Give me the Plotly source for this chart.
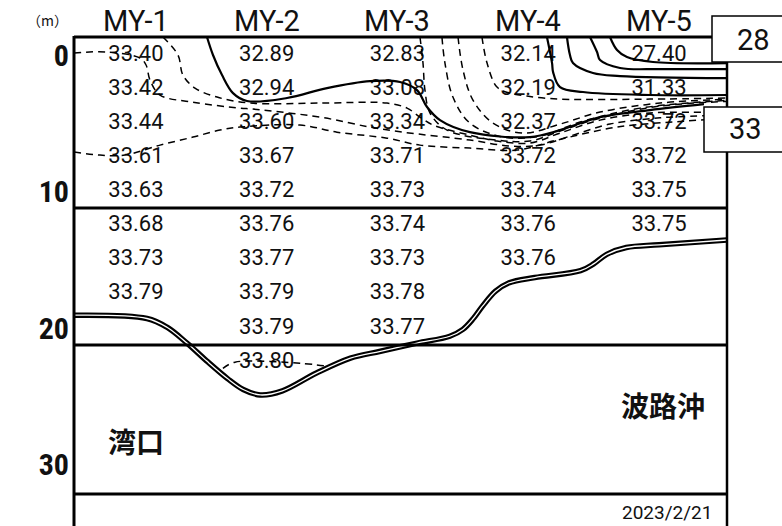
import plotly.graph_objects as go

# ---------------- data ----------------
STATIONS = ["MY-1", "MY-2", "MY-3", "MY-4", "MY-5"]
STATION_POS = [1, 2, 3, 4, 5]
DEPTHS = [0, 2.5, 5, 7.5, 10, 12.5, 15, 17.5, 20, 22.5]
SAL_MY1 = [33.40, 33.42, 33.44, 33.61, 33.63, 33.68, 33.73, 33.79, None, None]
SAL_MY2 = [32.89, 32.94, 33.60, 33.67, 33.72, 33.76, 33.77, 33.79, 33.79, 33.80]
SAL_MY3 = [32.83, 33.08, 33.34, 33.71, 33.73, 33.74, 33.73, 33.78, 33.77, None]
SAL_MY4 = [32.14, 32.19, 32.37, 33.72, 33.74, 33.76, 33.76, None, None, None]
SAL_MY5 = [27.40, 31.33, 33.72, 33.72, 33.75, 33.75, None, None, None, None]
DEPTH_TICKS = [0, 10, 20, 30]
DEPTH_TICK_TEXT = ["0", "10", "20", "30"]
DATE_TEXT = "2023/2/21"
LEFT_LABEL = "湾口"
RIGHT_LABEL = "波路沖"
BOX_LABELS = ["28", "33"]

# seabed profile (station position, depth m)
SEABED_X = [0.526, 1.084, 1.237, 1.39, 1.54, 1.70, 1.82, 1.95, 2.12, 2.38, 2.64, 2.87,
            3.15, 3.40, 3.50, 3.58, 3.65, 3.75, 3.85, 4.05, 4.40, 4.50, 4.60, 4.75, 5.0, 5.52]
SEABED_D = [19.06, 19.3, 19.94, 21.1, 22.4, 23.7, 24.5, 24.9, 24.6, 23.3, 22.2, 21.7,
            21.1, 20.6, 20.1, 19.3, 18.4, 17.3, 16.7, 16.3, 15.8, 15.3, 14.6, 14.1, 13.9, 13.55]

# isohalines (station position, depth m)
ISO_28 = [(4.625, -1.32), (4.679, -0.37), (4.755, 0.15), (4.954, 0.51), (5.52, 0.59)]
ISO_29 = [(4.472, -1.32), (4.526, -0.22), (4.549, 0.37), (4.702, 0.95), (5.008, 1.03), (5.52, 1.03)]
ISO_30 = [(4.296, -1.32), (4.319, 0.0), (4.342, 0.59), (4.495, 1.32), (4.702, 1.54), (5.52, 1.69)]
ISO_31 = [(4.143, -1.32), (4.182, 0.59), (4.190, 1.25), (4.243, 2.35), (4.419, 2.71),
          (4.931, 2.93), (5.52, 2.93)]
ISO_33 = [(1.543, -1.32), (1.589, 0.0), (1.658, 1.47), (1.742, 2.79), (1.849, 3.37), (2.155, 3.15),
          (2.461, 2.42), (2.790, 1.91), (3.019, 1.98), (3.149, 2.57), (3.226, 3.81), (3.325, 4.77),
          (3.554, 5.65), (4.013, 6.01), (4.243, 5.50), (4.549, 4.55), (4.931, 4.03), (5.344, 3.6)]
DASH_A = [(1.206, -1.32), (1.321, 0.0), (1.359, 1.47), (1.451, 2.42), (1.620, 3.08), (1.872, 3.52),
          (2.407, 3.52), (2.920, 3.52), (3.073, 3.89), (3.172, 4.55), (3.272, 5.13), (3.554, 5.87),
          (3.761, 6.30), (4.013, 6.45), (4.243, 5.72), (4.549, 4.77), (4.931, 4.25), (5.344, 4.2)]
DASH_B = [(0.526, -0.15), (0.778, -0.22), (1.031, 0.22), (1.077, 0.73), (1.107, 1.83), (1.184, 2.93),
          (1.436, 3.45), (1.795, 3.89), (1.895, 3.96), (2.407, 4.55), (2.790, 5.28), (3.042, 5.65),
          (3.554, 6.23), (3.860, 6.67), (4.090, 6.60), (4.319, 5.94), (4.625, 5.06), (5.008, 4.6),
          (5.344, 4.45)]
DASH_C = [(0.526, 7.11), (0.725, 7.33), (0.916, 7.33), (1.184, 6.60), (1.436, 6.01), (1.642, 5.50),
          (1.795, 5.28), (2.254, 5.13), (2.537, 5.65), (2.920, 6.09), (3.172, 6.60), (3.554, 6.82),
          (3.914, 6.96), (4.220, 6.23), (4.679, 5.28), (5.184, 4.85), (5.344, 4.75)]
DASH_T1 = [(3.172, -1.32), (3.195, 0.59), (3.210, 2.57), (3.249, 4.25), (3.379, 5.50), (3.761, 6.23),
           (4.013, 6.30), (4.243, 5.57), (4.549, 4.62), (5.008, 3.74), (5.52, 3.40)]
DASH_T2 = [(3.340, -1.32), (3.363, 0.59), (3.424, 3.08), (3.554, 4.99), (3.807, 6.01), (4.090, 5.94),
           (4.396, 4.91), (4.855, 3.89), (5.52, 3.32)]
DASH_T3 = [(3.463, -1.32), (3.501, 1.10), (3.577, 3.30), (3.730, 4.99), (3.960, 5.72), (4.243, 5.06),
           (4.549, 4.18), (5.008, 3.52), (5.52, 3.24)]
DASH_T4 = [(3.646, -1.32), (3.685, 0.59), (3.761, 2.35), (3.860, 2.79), (3.990, 3.01), (4.243, 3.23),
           (4.931, 3.23), (5.52, 3.15)]
DASH_BOTTOM = [(1.665, 22.95), (1.757, 22.5), (2.254, 22.58), (2.461, 22.8)]

SOLID_LINES = [ISO_28, ISO_29, ISO_30, ISO_31, ISO_33]
DASHED_LINES = [DASH_A, DASH_B, DASH_C, DASH_T1, DASH_T2, DASH_T3, DASH_T4, DASH_BOTTOM]

# ---------------- figure ----------------
W, H = 782, 526
ML, MR, MT, MB = 74, 55, 37, 0
X_RANGE = [0.526, 5.52]
Y_RANGE = [34.5, -1.32]

NUM_FONT = "Roboto, 'Noto Sans', sans-serif"
CJK_FONT = "'Noto Sans CJK JP', sans-serif"

fig = go.Figure()

# value labels
cols = [SAL_MY1, SAL_MY2, SAL_MY3, SAL_MY4, SAL_MY5]
tx, ty, tt = [], [], []
for pos, col in zip(STATION_POS, cols):
    for d, v in zip(DEPTHS, col):
        if v is not None:
            tx.append(pos)
            ty.append(d)
            tt.append(f"{v:.2f}")
fig.add_trace(go.Scatter(x=tx, y=ty, text=tt, mode="text",
                         textfont=dict(family=NUM_FONT, size=22, color="#111"),
                         cliponaxis=False, hoverinfo="skip", showlegend=False))

for line in DASHED_LINES:
    fig.add_trace(go.Scatter(x=[p[0] for p in line], y=[p[1] for p in line], mode="lines",
                             line=dict(color="black", width=1.5, dash="7px,5px", shape="spline",
                                       smoothing=1.0),
                             hoverinfo="skip", showlegend=False))
for line in SOLID_LINES:
    fig.add_trace(go.Scatter(x=[p[0] for p in line], y=[p[1] for p in line], mode="lines",
                             line=dict(color="black", width=2.2, shape="spline", smoothing=1.0),
                             hoverinfo="skip", showlegend=False))

# seabed double line
fig.add_trace(go.Scatter(x=SEABED_X, y=SEABED_D, mode="lines",
                         line=dict(color="black", width=5.5, shape="spline", smoothing=1.0),
                         hoverinfo="skip", showlegend=False))
fig.add_trace(go.Scatter(x=SEABED_X, y=SEABED_D, mode="lines",
                         line=dict(color="white", width=1.3, shape="spline", smoothing=1.0),
                         hoverinfo="skip", showlegend=False))

pw, ph = W - ML - MR, H - MT - MB


def px(xpix):
    return (xpix - ML) / pw


def py(ypix):
    return (H - MB - ypix) / ph


shapes = []
# frame lines
shapes.append(dict(type="line", xref="paper", yref="paper", x0=px(74), x1=px(712), y0=py(37), y1=py(37),
                   line=dict(color="black", width=3)))
shapes.append(dict(type="line", xref="paper", yref="paper", x0=px(74), x1=px(74), y0=py(36), y1=py(530),
                   line=dict(color="black", width=3)))
shapes.append(dict(type="line", xref="paper", yref="paper", x0=px(727), x1=px(727), y0=py(62), y1=py(107),
                   line=dict(color="black", width=2.5)))
shapes.append(dict(type="line", xref="paper", yref="paper", x0=px(727), x1=px(727), y0=py(152), y1=py(530),
                   line=dict(color="black", width=2.5)))
for ypix in (208, 345, 494):
    shapes.append(dict(type="line", xref="paper", yref="paper", x0=px(74), x1=px(727), y0=py(ypix),
                       y1=py(ypix), line=dict(color="black", width=2.8)))
# label boxes
shapes.append(dict(type="rect", xref="paper", yref="paper", x0=px(712), x1=px(800), y0=py(62), y1=py(16),
                   line=dict(color="black", width=1.5), fillcolor="white"))
shapes.append(dict(type="rect", xref="paper", yref="paper", x0=px(704), x1=px(800), y0=py(152), y1=py(107),
                   line=dict(color="black", width=1.5), fillcolor="white"))


def ann(text, xpix, ypix, size, family, xanchor="center", weight="normal"):
    return dict(x=px(xpix), y=py(ypix), xref="paper", yref="paper", text=text, showarrow=False,
                xanchor=xanchor, yanchor="middle",
                font=dict(family=family, size=size, color="#111", weight=weight))


annotations = []
for pos, name in zip(STATION_POS, STATIONS):
    annotations.append(dict(x=pos, y=py(21), xref="x", yref="paper", text=name, showarrow=False,
                            xanchor="center", yanchor="middle",
                            font=dict(family=NUM_FONT, size=29, color="#111")))
annotations.append(ann("（m）", 47, 20, 14, CJK_FONT))
annotations.append(ann(BOX_LABELS[0], 753, 40, 29, NUM_FONT))
annotations.append(ann(BOX_LABELS[1], 745, 129, 29, NUM_FONT))
annotations.append(ann(LEFT_LABEL, 136, 441, 28, CJK_FONT, weight="bold"))
annotations.append(ann(RIGHT_LABEL, 663, 405, 28, CJK_FONT, weight="bold"))
annotations.append(ann(DATE_TEXT, 714, 512, 19, NUM_FONT, xanchor="right"))

fig.update_layout(
    width=W, height=H,
    margin=dict(l=ML, r=MR, t=MT, b=MB, pad=0),
    paper_bgcolor="white", plot_bgcolor="white",
    shapes=shapes, annotations=annotations,
    showlegend=False,
    xaxis=dict(range=X_RANGE, visible=False, showgrid=False, zeroline=False, fixedrange=True),
    yaxis=dict(range=Y_RANGE, showgrid=False, zeroline=False, showline=False, ticks="",
               tickvals=DEPTH_TICKS, ticktext=DEPTH_TICK_TEXT, ticklabelstandoff=4,
               tickfont=dict(family="'Liberation Sans Narrow', 'Roboto Condensed', Roboto, sans-serif",
                             size=30, color="#111", weight="bold"),
               fixedrange=True),
)

fig.write_html("out.html", config={"displayModeBar": False},
               post_script="document.body.style.margin='0';document.body.style.overflow='hidden';")
